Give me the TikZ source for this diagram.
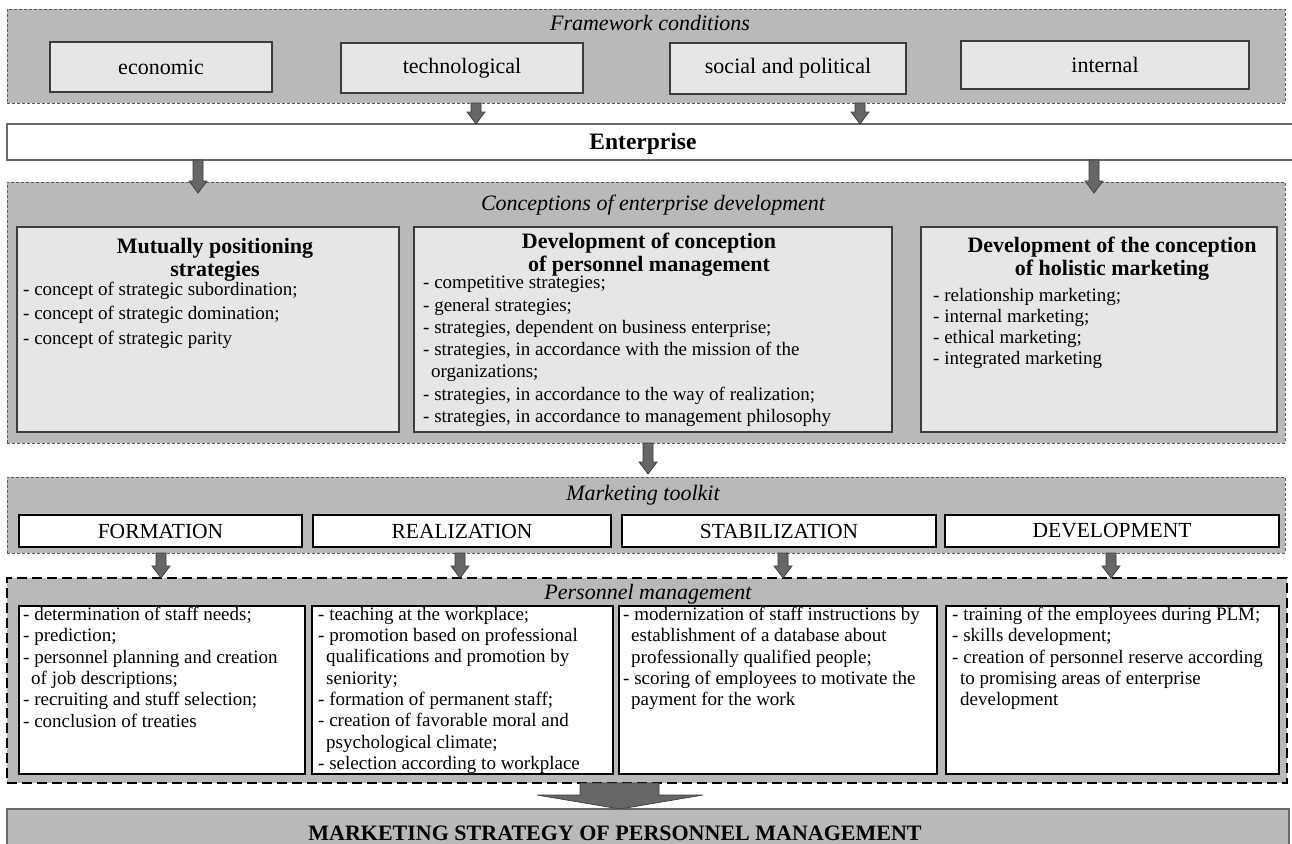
\documentclass[tikz,border=0pt]{standalone}
\usepackage{fontspec}
\setmainfont{Liberation Serif}
\usetikzlibrary{calc}
\definecolor{contgray}{HTML}{B9B9B9}
\definecolor{lightbox}{HTML}{E6E6E6}
\definecolor{arrgray}{HTML}{666666}
\definecolor{edgegray}{HTML}{3C3C3C}
\definecolor{dashgray}{HTML}{5A5A5A}
\definecolor{entedge}{HTML}{6A6A6A}
\newcommand\labfont{\fontsize{22}{24}\selectfont}
\newcommand\tlfont{\fontsize{21.5}{24}\selectfont}
\tikzset{
  rect/.style={rectangle, inner sep=0pt, outer sep=0pt, anchor=north west},
  cont/.style={draw=dashgray, fill=contgray, line width=0.9pt, dash pattern=on 3pt off 2pt},
  lbox/.style={draw=edgegray, fill=lightbox, line width=1.2pt},
  entbox/.style={draw=entedge, fill=white, line width=1.2pt},
  wbox/.style={draw=black, fill=white, line width=2.2pt},
  pmcont/.style={draw=black, fill=contgray, line width=2.2pt, dash pattern=on 10pt off 5pt},
  botbox/.style={draw=entedge, fill=contgray, line width=1.2pt},
  arrowshape/.style={fill=arrgray, draw=edgegray, line width=0.7pt},
  ttl/.style={anchor=base, inner sep=0pt, font=\itshape\fontsize{22}{24}\selectfont},
  headtxt/.style={anchor=north, inner sep=0pt, align=center, font=\bfseries\fontsize{22}{22.8}\selectfont},
  items/.style={anchor=north west, inner sep=0pt, align=left, font=\fontsize{19}{21.3}\selectfont}
}
\newcommand\blkarrow[4]{%
  \path[arrowshape] let \p1=(#2), \p2=(#3) in
    (#1pt-5pt,\y1) -- (#1pt-5pt,\y2-#4pt+12pt) -- (#1pt-9pt,\y2-#4pt+12pt)
    -- (#1pt,\y2-#4pt) -- (#1pt+9pt,\y2-#4pt+12pt) -- (#1pt+5pt,\y2-#4pt+12pt)
    -- (#1pt+5pt,\y1) -- cycle;}
\begin{document}
\begin{tikzpicture}[x=1pt,y=-1pt]
\useasboundingbox (0,0) rectangle (1292,843);
\fill[white] (0,0) rectangle (1292,843);

% Framework conditions
\node[rect,cont,minimum width=1278pt,minimum height=94pt] (fw) at (7,9) {};
\node[ttl] (fwt) at (650,31) {Framework conditions};
\node[rect,lbox,minimum width=222pt,minimum height=50pt,font=\labfont] (econ) at (50,42) {economic};
\node[rect,lbox,minimum width=242pt,minimum height=50pt,font=\labfont] (tech) at (341,43) {technological};
\node[rect,lbox,minimum width=236pt,minimum height=51pt,font=\labfont] (soc) at (670,43) {social and political};
\node[rect,lbox,minimum width=288pt,minimum height=48pt,font=\labfont] (intl) at (961,41) {internal};

% Enterprise
\node[rect,entbox,minimum width=1300pt,minimum height=36pt] (ent) at (7,124) {};
\node[anchor=base,inner sep=0pt,font=\bfseries\fontsize{23.5}{25}\selectfont] (entt) at (643,149) {Enterprise};

% Conceptions
\node[rect,cont,minimum width=1278pt,minimum height=261pt] (cp) at (7,182) {};
\node[ttl] (cpt) at (653,210) {Conceptions of enterprise development};
\node[rect,lbox,minimum width=382pt,minimum height=205pt] (c1) at (17,227) {};
\node[rect,lbox,minimum width=478pt,minimum height=205pt] (c2) at (414,227) {};
\node[rect,lbox,minimum width=356pt,minimum height=205pt] (c3) at (921,227) {};

\node[headtxt] (c1h) at (215,238) {Mutually positioning\\strategies};
\node[items,font=\fontsize{19}{24.3}\selectfont] (c1i) at (23,282) {- concept of strategic subordination;\\- concept of strategic domination;\\- concept of strategic parity};

\node[headtxt] (c2h) at (649,233) {Development of conception\\of personnel management};
\node[items,font=\fontsize{19}{22.3}\selectfont] (c2i) at (423,276) {- competitive strategies;\\- general strategies;\\- strategies, dependent on business enterprise;\\- strategies, in accordance with the mission of the\\\hspace*{8pt}organizations;\\- strategies, in accordance to the way of realization;\\- strategies, in accordance to management philosophy};

\node[headtxt] (c3h) at (1112,237) {Development of the conception\\of holistic marketing};
\node[items,font=\fontsize{19}{21}\selectfont] (c3i) at (933,288) {- relationship marketing;\\- internal marketing;\\- ethical marketing;\\- integrated marketing};

% Marketing toolkit
\node[rect,cont,minimum width=1278pt,minimum height=76pt] (tk) at (7,477) {};
\node[ttl] (tkt) at (643,500) {Marketing toolkit};
\node[rect,wbox,minimum width=283pt,minimum height=32pt,font=\tlfont] (t1) at (19,515) {FORMATION};
\node[rect,wbox,minimum width=298pt,minimum height=32pt,font=\tlfont] (t2) at (313,515) {REALIZATION};
\node[rect,wbox,minimum width=314pt,minimum height=32pt,font=\tlfont] (t3) at (622,515) {STABILIZATION};
\node[rect,wbox,minimum width=334pt,minimum height=32pt,font=\tlfont] (t4) at (945,515) {DEVELOPMENT};

% Personnel management
\node[rect,pmcont,minimum width=1280pt,minimum height=205pt] (pm) at (7,578) {};
\node[ttl] (pmt) at (648,599) {Personnel management};
\node[rect,wbox,minimum width=286pt,minimum height=168pt] (p1) at (19,606) {};
\node[rect,wbox,minimum width=301pt,minimum height=168pt] (p2) at (312,606) {};
\node[rect,wbox,minimum width=318pt,minimum height=168pt] (p3) at (619,606) {};
\node[rect,wbox,minimum width=333pt,minimum height=168pt] (p4) at (946,606) {};

\node[items] (p1i) at (23,607) {- determination of staff needs;\\- prediction;\\- personnel planning and creation\\\hspace*{8pt}of job descriptions;\\- recruiting and stuff selection;\\- conclusion of treaties};
\node[items] (p2i) at (318,607) {- teaching at the workplace;\\- promotion based on professional\\\hspace*{8pt}qualifications and promotion by\\\hspace*{8pt}seniority;\\- formation of permanent staff;\\- creation of favorable moral and\\\hspace*{8pt}psychological climate;\\- selection according to workplace};
\node[items] (p3i) at (623,607) {- modernization of staff instructions by\\\hspace*{8pt}establishment of a database about\\\hspace*{8pt}professionally qualified people;\\- scoring of employees to motivate the\\\hspace*{8pt}payment for the work};
\node[items] (p4i) at (952,607) {- training of the employees during PLM;\\- skills development;\\- creation of personnel reserve according\\\hspace*{8pt}to promising areas of enterprise\\\hspace*{8pt}development};

% Bottom
\node[rect,botbox,minimum width=1282pt,minimum height=50pt] (bt) at (7,809) {};
\node[anchor=base,inner sep=0pt,font=\bfseries\fontsize{22}{24}\selectfont] (btt) at (615,840) {MARKETING STRATEGY OF PERSONNEL MANAGEMENT};

% Arrows
\blkarrow{476}{fw.south}{ent.north}{0}
\blkarrow{860}{fw.south}{ent.north}{0}
\blkarrow{198}{ent.south}{cp.north}{11}
\blkarrow{1094}{ent.south}{cp.north}{11}
\blkarrow{648}{cp.south}{tk.north}{-3}
\blkarrow{161}{tk.south}{pm.north}{0}
\blkarrow{460}{tk.south}{pm.north}{0}
\blkarrow{783}{tk.south}{pm.north}{0}
\blkarrow{1111}{tk.south}{pm.north}{0}
\path[arrowshape] let \p1=(pm.south), \p2=(bt.north) in
  (580pt,\y1) -- (580pt,\y2+14pt) -- (537pt,\y2+14pt) -- (620pt,\y2)
  -- (703pt,\y2+14pt) -- (659pt,\y2+14pt) -- (659pt,\y1) -- cycle;
\end{tikzpicture}
\end{document}
